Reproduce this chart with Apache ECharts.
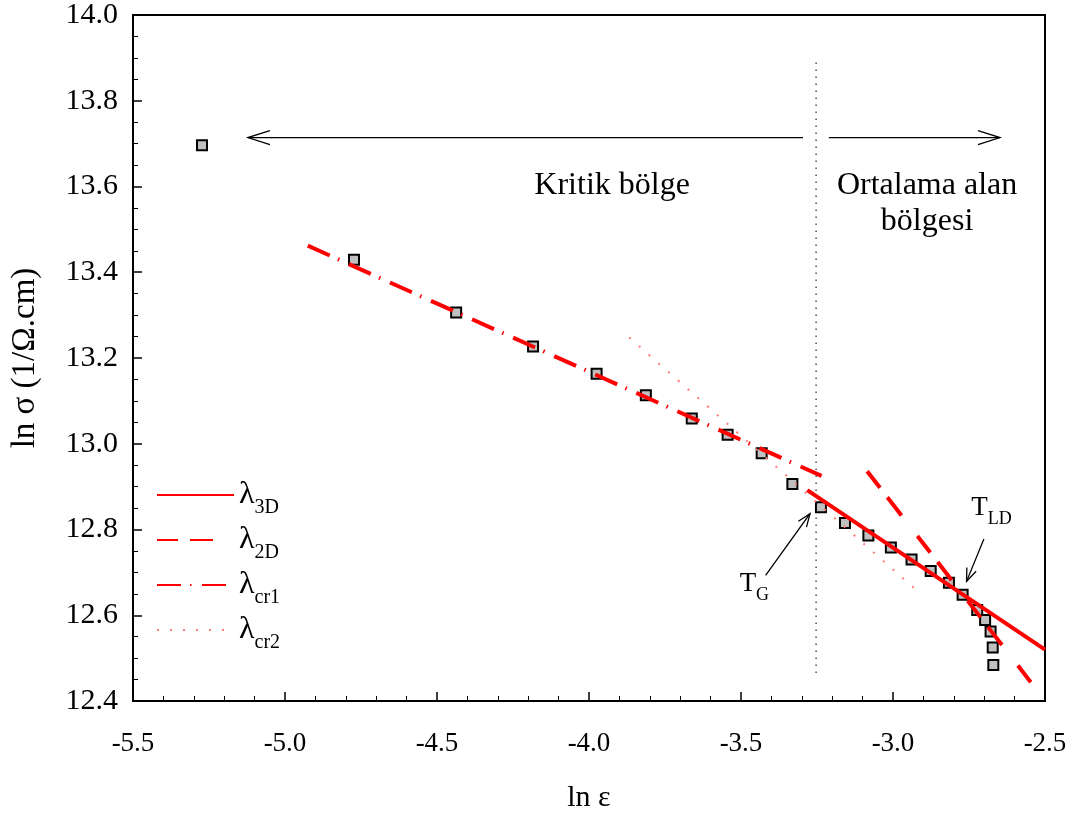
<!DOCTYPE html>
<html>
<head>
<meta charset="utf-8">
<title>ln σ - ln ε</title>
<script src="https://cdn.jsdelivr.net/npm/echarts@6/dist/echarts.min.js"></script>
<style>
  html, body { margin: 0; padding: 0; background: #fff; }
  #chart { width: 1075px; height: 818px; }
</style>
</head>
<body>
<div id="chart"></div>
<script>
// measured points (ln ε, ln σ)
const lnEps = [-5.273, -4.773, -4.437, -4.184, -3.975, -3.813, -3.662, -3.544, -3.432, -3.331,
  -3.237, -3.158, -3.081, -3.007, -2.939, -2.876, -2.816, -2.771, -2.723, -2.697, -2.679, -2.672, -2.670];
const lnSigma = [13.696, 13.429, 13.306, 13.227, 13.163, 13.113, 13.059, 13.021, 12.978, 12.906,
  12.852, 12.815, 12.786, 12.758, 12.730, 12.703, 12.676, 12.648, 12.612, 12.589, 12.562, 12.525, 12.484];

// fit lines, two end points each
const fit3D = [[-3.282, 12.892], [-2.5, 12.520]];
const fit2D = [[-3.085, 12.936], [-2.536, 12.434]];
const fitCr1 = [[-4.925, 13.462], [-3.235, 12.925]];
const fitCr2 = [[-3.868, 13.248], [-2.925, 12.660]];

// dotted line at T_G
const tgLine = [[-3.253, 13.889], [-3.253, 12.453]];

// region arrows (Kritik / Ortalama alan)
const regionFrom = [[-3.296, 13.714], [-3.211, 13.714]];
const regionTo = [[-5.122, 13.714], [-2.648, 13.714]];
// pointer arrows (T_G, T_LD)
const pointerFrom = [[-3.419, 12.693], [-2.701, 12.778]];
const pointerTo = [[-3.273, 12.837], [-2.758, 12.679]];

// text positions (centre of each text block)
const noteKritik = [-3.924, 13.601];
const noteOrtalama = [-2.888, 13.559];
const noteTG = [-3.456, 12.672];
const noteTLD = [-2.676, 12.850];

// axes
const xMin = -5.5, xMax = -2.5, xStep = 0.5;
const yMin = 12.4, yMax = 14.0, yStep = 0.2;

const FONT = "'Liberation Serif', 'Times New Roman', serif";
const RED = '#ff0000';

const chart = echarts.init(document.getElementById('chart'));

function arrowRenderer(headLen, headHalf) {
  return function (params, api) {
    const a = api.coord([api.value(0), api.value(1)]);
    const b = api.coord([api.value(2), api.value(3)]);
    const dx = b[0] - a[0], dy = b[1] - a[1];
    const len = Math.sqrt(dx * dx + dy * dy) || 1;
    const ux = dx / len, uy = dy / len;
    const nx = -uy, ny = ux;
    const h1 = [b[0] - ux * headLen + nx * headHalf, b[1] - uy * headLen + ny * headHalf];
    const h2 = [b[0] - ux * headLen - nx * headHalf, b[1] - uy * headLen - ny * headHalf];
    const style = { stroke: '#000', lineWidth: 1.3, fill: null };
    return {
      type: 'group',
      children: [
        { type: 'line', shape: { x1: a[0], y1: a[1], x2: b[0], y2: b[1] }, style: style },
        { type: 'polyline', shape: { points: [h1, b, h2] }, style: style }
      ]
    };
  };
}

function pairs(from, to) {
  return from.map((p, i) => [p[0], p[1], to[i][0], to[i][1]]);
}

function fitSeries(name, data, type, width, color) {
  return {
    name: name,
    type: 'line',
    data: data,
    symbol: 'none',
    z: 3,
    lineStyle: { color: color, width: width, type: type },
    itemStyle: { color: color }
  };
}

const option = {
  backgroundColor: '#fff',
  animation: false,
  textStyle: { fontFamily: FONT, color: '#000' },
  grid: {
    left: 133, right: 30, top: 14, bottom: 115,
    show: true, borderColor: '#000', borderWidth: 2, backgroundColor: 'transparent'
  },
  legend: {
    orient: 'vertical',
    left: 156,
    top: 479,
    padding: 0,
    itemWidth: 77,
    itemHeight: 14,
    itemGap: 6,
    selectedMode: false,
    itemStyle: { opacity: 0 },
    data: ['λ3D', 'λ2D', 'λcr1', 'λcr2'],
    formatter: name => '{l|λ}{s|' + name.slice(1) + '}',
    textStyle: {
      rich: {
        l: { fontFamily: FONT, fontSize: 32, color: '#000', verticalAlign: 'middle', lineHeight: 46 },
        s: { fontFamily: FONT, fontSize: 20, color: '#000', verticalAlign: 'bottom', lineHeight: 20 }
      }
    }
  },
  xAxis: {
    type: 'value',
    min: xMin, max: xMax, interval: xStep,
    name: 'ln ε',
    nameLocation: 'middle',
    nameGap: 82,
    nameTextStyle: { fontFamily: FONT, fontSize: 30, color: '#000' },
    axisLine: { show: true, lineStyle: { color: '#000', width: 2 } },
    axisTick: { show: true, inside: true, length: 9, lineStyle: { color: '#000', width: 1.5 } },
    minorTick: { show: true, splitNumber: 5, length: 5, lineStyle: { color: '#000', width: 1 } },
    axisLabel: { fontFamily: FONT, fontSize: 27, color: '#000', margin: 29, formatter: v => v.toFixed(1) },
    splitLine: { show: false }
  },
  yAxis: {
    type: 'value',
    min: yMin, max: yMax, interval: yStep,
    name: 'ln σ (1/Ω.cm)',
    nameLocation: 'middle',
    nameGap: 91,
    nameRotate: 90,
    nameTextStyle: { fontFamily: FONT, fontSize: 33, color: '#000' },
    axisLine: { show: true, lineStyle: { color: '#000', width: 2 } },
    axisTick: { show: true, inside: true, length: 9, lineStyle: { color: '#000', width: 1.5 } },
    minorTick: { show: true, splitNumber: 4, length: 5, lineStyle: { color: '#000', width: 1 } },
    axisLabel: { fontFamily: FONT, fontSize: 30, color: '#000', margin: 15, formatter: v => v.toFixed(1) },
    splitLine: { show: false }
  },
  series: [
    {
      name: 'data',
      type: 'scatter',
      z: 2,
      symbol: 'rect',
      symbolSize: 10,
      itemStyle: { color: '#c0c0c0', borderColor: '#000', borderWidth: 2, opacity: 1 },
      data: lnEps.map((x, i) => [x, lnSigma[i]])
    },
    fitSeries('λ3D', fit3D, 'solid', 4, RED),
    fitSeries('λ2D', fit2D, [21, 12, 23, 26], 4, RED),
    fitSeries('λcr1', fitCr1, [24, 9, 1.5, 10.5], 4, RED),
    fitSeries('λcr2', fitCr2, [2, 11], 2, '#ff7a7a'),
    {
      name: 'tg',
      type: 'line',
      data: tgLine,
      symbol: 'none',
      z: 1,
      lineStyle: { color: '#333', width: 1.3, type: [1.5, 5.5] }
    },
    {
      name: 'regionArrows',
      type: 'custom',
      z: 4,
      renderItem: arrowRenderer(22, 7),
      encode: { x: [0, 2], y: [1, 3] },
      data: pairs(regionFrom, regionTo)
    },
    {
      name: 'pointerArrows',
      type: 'custom',
      z: 4,
      renderItem: arrowRenderer(13, 5),
      encode: { x: [0, 2], y: [1, 3] },
      data: pairs(pointerFrom, pointerTo)
    },
    {
      name: 'notes',
      type: 'scatter',
      z: 5,
      symbolSize: 1,
      itemStyle: { color: 'rgba(0,0,0,0)', opacity: 1 },
      label: {
        show: true,
        position: 'inside',
        color: '#000',
        textBorderWidth: 0,
        fontFamily: FONT,
        formatter: p => p.data.text,
        rich: {
          t: { fontFamily: FONT, fontSize: 27, color: '#000', verticalAlign: 'middle', lineHeight: 40 },
          g: { fontFamily: FONT, fontSize: 18, color: '#000', verticalAlign: 'bottom', lineHeight: 18 }
        }
      },
      data: [
        { value: noteKritik, text: 'Kritik bölge', label: { fontSize: 32 } },
        { value: noteOrtalama, text: 'Ortalama alan\nbölgesi', label: { fontSize: 32, lineHeight: 36, align: 'center' } },
        { value: noteTG, text: '{t|T}{g|G}' },
        { value: noteTLD, text: '{t|T}{g|LD}' }
      ]
    }
  ]
};

chart.setOption(option);
</script>
</body>
</html>
